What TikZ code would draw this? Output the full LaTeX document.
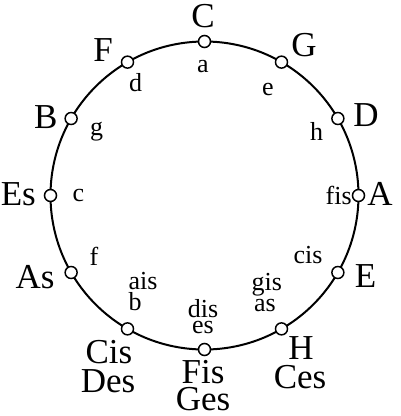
\documentclass[tikz,border=0pt]{standalone}
\usepackage{fontspec}
\setmainfont{Liberation Serif}
\usetikzlibrary{calc}
\begin{document}
\begin{tikzpicture}[x=1pt,y=-1pt,
  big/.style={anchor=base,inner sep=0pt,font=\fontsize{35}{35}\selectfont},
  small/.style={anchor=base,inner sep=0pt,font=\fontsize{26}{26}\selectfont},
  dot/.style={circle,draw,fill=white,line width=1.5pt,minimum size=12pt,inner sep=0pt}]
  \useasboundingbox (0,0) rectangle (400,416);
  \coordinate (O) at (204.5,195.5);
  \draw[line width=2pt] (O) circle (154);
  % points on the circle
  \foreach \a/\n in {90/C,60/G,30/D,0/A,-30/E,-60/H,-90/Fis,-120/Cis,-150/As,180/Es,150/B,120/F}
    \node[dot] (p\n) at ($(O)+(-\a:154)$) {};
  % major keys
  \foreach \x/\y/\t in {203/27/C,304/56.7/G,366/126.7/D,380/205/A,365.5/287/E,301/359/H,300/388/Ces,
      203/383/Fis,203/410/Ges,109/363/Cis,108/392/Des,35/288/As,18.3/205/Es,45.7/128/B,103/61.7/F}
    \node[big] (k\t) at (\x,\y) {\t};
  % minor keys
  \foreach \x/\y/\t in {203/72/a,268/95/e,316.7/140/h,338.7/204/fis,308/263/cis,266.7/290/gis,265/311.7/as,
      203/317/dis,203/333/es,143/289/ais,135/310/b,94/265/f,78.3/201.7/c,96.7/135/g,135.7/91.7/d}
    \node[small] (m\t) at (\x,\y) {\t};
\end{tikzpicture}
\end{document}
